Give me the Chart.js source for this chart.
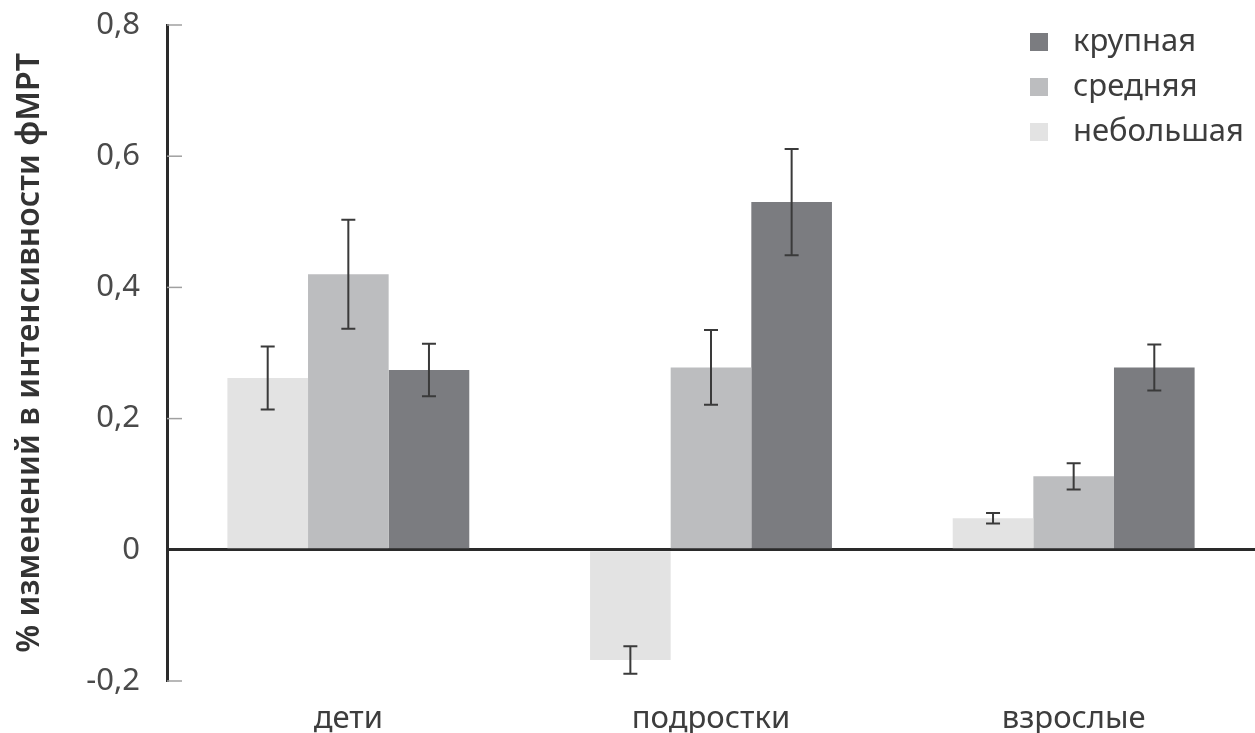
<!DOCTYPE html>
<html>
<head>
<meta charset="utf-8">
<script src="https://cdn.jsdelivr.net/npm/chart.js@4/dist/chart.umd.min.js"></script>
<style>
  html, body { margin: 0; padding: 0; background: #fff; }
  #wrap { width: 1255px; height: 733px; position: relative; }
</style>
</head>
<body>
<div id="wrap"><canvas id="chartCanvas"></canvas></div>
<script>
// groups along the x axis and the three series (bar size)
const groups = ["дети", "подростки", "взрослые"];
const seriesNames = ["небольшая", "средняя", "крупная"];

const small_vals  = [0.262, -0.168, 0.048];
const medium_vals = [0.420,  0.278, 0.112];
const large_vals  = [0.274,  0.530, 0.278];

// half-length of each error bar
const small_err  = [0.048, 0.021, 0.008];
const medium_err = [0.083, 0.057, 0.020];
const large_err  = [0.040, 0.081, 0.035];

const yTicks = [-0.2, 0, 0.2, 0.4, 0.6, 0.8];

const FONT = "'Noto Sans', sans-serif";
const barColors = ['#e3e3e3', '#bcbdbf', '#7b7c80'];

const values = [small_vals, medium_vals, large_vals];
const errors = [small_err, medium_err, large_err];

function fmt(v) {
    if (Math.abs(v) < 1e-9) return '0';
    return v.toFixed(1).replace('.', ',');
}

// small tick marks pointing into the plot, from the y scale
const innerTicks = {
    id: 'innerTicks',
    afterDatasetsDraw(chart) {
        const ctx = chart.ctx;
        const y = chart.scales.y;
        const left = chart.chartArea.left;
        ctx.save();
        ctx.strokeStyle = '#a0a0a0';
        ctx.lineWidth = 1.5;
        y.ticks.forEach(t => {
            if (Math.abs(t.value) < 1e-9) return;
            const py = y.getPixelForValue(t.value);
            ctx.beginPath();
            ctx.moveTo(left, py);
            ctx.lineTo(left + 15, py);
            ctx.stroke();
        });
        ctx.restore();
    }
};

// whiskers drawn from the bar elements and the y scale
const errorBars = {
    id: 'errorBars',
    afterDatasetsDraw(chart) {
        const ctx = chart.ctx;
        const y = chart.scales.y;
        ctx.save();
        ctx.strokeStyle = '#3a3a3a';
        ctx.lineWidth = 2;
        chart.data.datasets.forEach((ds, i) => {
            chart.getDatasetMeta(i).data.forEach((bar, j) => {
                const v = ds.data[j], e = ds.err[j];
                const top = y.getPixelForValue(v + e);
                const bot = y.getPixelForValue(v - e);
                const cap = 7;
                ctx.beginPath();
                ctx.moveTo(bar.x, top); ctx.lineTo(bar.x, bot);
                ctx.moveTo(bar.x - cap, top); ctx.lineTo(bar.x + cap, top);
                ctx.moveTo(bar.x - cap, bot); ctx.lineTo(bar.x + cap, bot);
                ctx.stroke();
            });
        });
        ctx.restore();
    }
};

// legend in the top right corner, largest size first
const cornerLegend = {
    id: 'cornerLegend',
    afterDraw(chart) {
        const ctx = chart.ctx;
        const area = chart.chartArea;
        const x0 = area.right - 225;
        let yc = area.top + 17;
        ctx.save();
        ctx.font = '31px ' + FONT;
        ctx.textBaseline = 'middle';
        for (let i = chart.data.datasets.length - 1; i >= 0; i--) {
            const ds = chart.data.datasets[i];
            ctx.fillStyle = ds.backgroundColor;
            ctx.fillRect(x0, yc - 9, 18, 18);
            ctx.fillStyle = '#3d3d3d';
            ctx.fillText(ds.label, x0 + 43, yc);
            yc += 45;
        }
        ctx.restore();
    }
};

const bar_data = {
    labels: groups,
    datasets: seriesNames.map((name, i) => ({
        label: name,
        data: values[i],
        err: errors[i],
        backgroundColor: barColors[i],
        borderWidth: 0
    }))
};

new Chart(document.getElementById('chartCanvas'), {
    type: 'bar',
    data: bar_data,
    plugins: [innerTicks, errorBars, cornerLegend],
    options: {
        responsive: true,
        maintainAspectRatio: false,
        animation: false,
        categoryPercentage: 0.667,
        barPercentage: 1.0,
        layout: {padding: {top: 25, right: 0, bottom: 0, left: 0}},
        plugins: {
            legend: {display: false},
            tooltip: {enabled: false}
        },
        scales: {
            x: {
                grid: {display: false, drawTicks: false},
                border: {display: false},
                afterFit: s => { s.height = 52; s.paddingLeft = 0; s.paddingRight = 0; },
                ticks: {color: '#3d3d3d', font: {family: FONT, size: 31}, padding: 20}
            },
            y: {
                min: -0.2,
                max: 0.8,
                afterBuildTicks: s => { s.ticks = yTicks.map(v => ({value: v})); },
                afterFit: s => { s.width = 167; s.paddingTop = 0; s.paddingBottom = 0; },
                border: {color: '#2a2a2a', width: 3},
                grid: {
                    color: c => (c.tick && Math.abs(c.tick.value) < 1e-9) ? '#2a2a2a' : 'rgba(0,0,0,0)',
                    lineWidth: c => (c.tick && Math.abs(c.tick.value) < 1e-9) ? 3 : 1,
                    drawTicks: false
                },
                ticks: {
                    color: '#4a4a4a',
                    font: {family: FONT, size: 31},
                    padding: 27,
                    callback: v => fmt(v)
                },
                title: {
                    display: true,
                    text: '% изменений в интенсивности фМРТ',
                    color: '#333',
                    font: {family: FONT, size: 32, weight: '600'},
                    padding: {top: 11, bottom: 0}
                }
            }
        }
    }
});
</script>
</body>
</html>
